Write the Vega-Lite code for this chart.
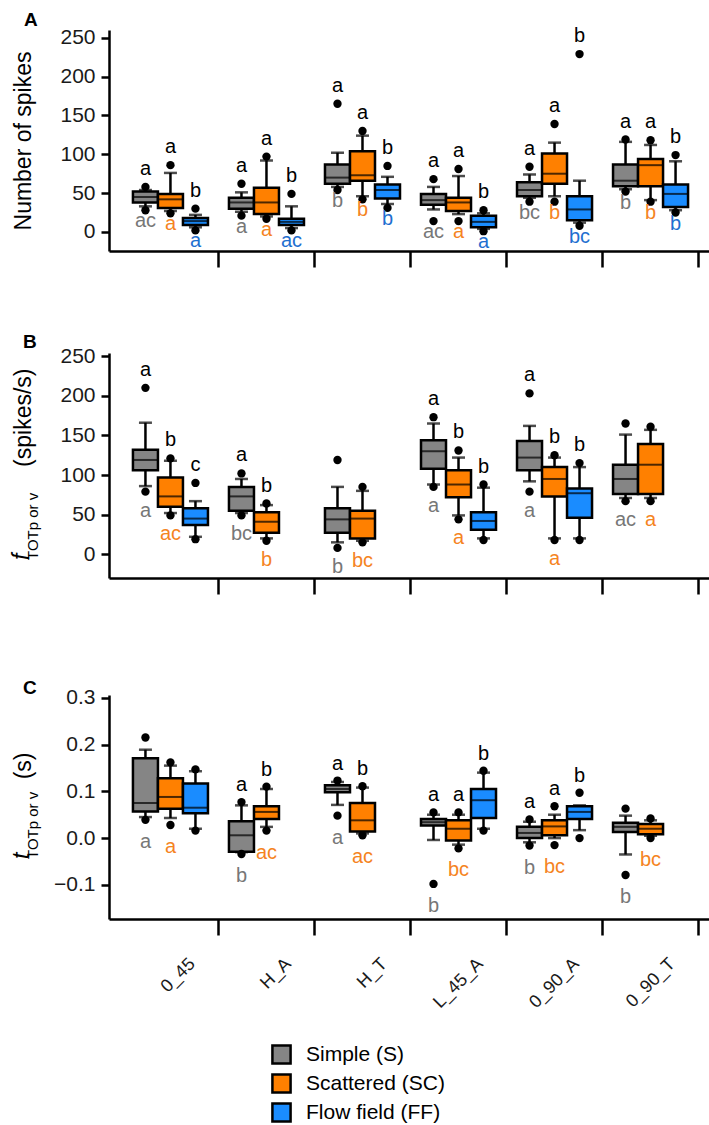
{
  "$schema": "https://vega.github.io/schema/vega-lite/v6.json",
  "padding": {"left": 10, "top": 11, "right": 0, "bottom": 0},
  "datasets": {
    "boxes": [
      {"p":"A","g":"0_45","s":"Simple (S)","lo":33,"q1":38,"med":45,"q3":52,"hi":54,"out":[58,28],"up":"a","dn":"ac"},
      {"p":"A","g":"0_45","s":"Scattered (SC)","lo":27,"q1":31,"med":42,"q3":49,"hi":76,"out":[86,24],"up":"a","dn":"a"},
      {"p":"A","g":"0_45","s":"Flow field (FF)","lo":6,"q1":9,"med":14,"q3":18,"hi":22,"out":[30,2],"up":"b","dn":"a"},
      {"p":"A","g":"H_A","s":"Simple (S)","lo":26,"q1":30,"med":38,"q3":44,"hi":51,"out":[62,21],"up":"a","dn":"a"},
      {"p":"A","g":"H_A","s":"Scattered (SC)","lo":20,"q1":23,"med":38,"q3":57,"hi":92,"out":[97,17],"up":"a","dn":"a"},
      {"p":"A","g":"H_A","s":"Flow field (FF)","lo":5,"q1":9,"med":13,"q3":17,"hi":33,"out":[49,2],"up":"b","dn":"ac"},
      {"p":"A","g":"H_T","s":"Simple (S)","lo":58,"q1":62,"med":70,"q3":87,"hi":102,"out":[165,54],"up":"a","dn":"b"},
      {"p":"A","g":"H_T","s":"Scattered (SC)","lo":46,"q1":66,"med":73,"q3":104,"hi":124,"out":[130,42],"up":"a","dn":"b"},
      {"p":"A","g":"H_T","s":"Flow field (FF)","lo":36,"q1":43,"med":54,"q3":61,"hi":71,"out":[85,31],"up":"b","dn":"b"},
      {"p":"A","g":"L_45_A","s":"Simple (S)","lo":29,"q1":35,"med":41,"q3":49,"hi":58,"out":[68,14],"up":"a","dn":"ac"},
      {"p":"A","g":"L_45_A","s":"Scattered (SC)","lo":23,"q1":27,"med":38,"q3":44,"hi":72,"out":[81,14],"up":"a","dn":"a"},
      {"p":"A","g":"L_45_A","s":"Flow field (FF)","lo":4,"q1":6,"med":13,"q3":21,"hi":24,"out":[28,1],"up":"b","dn":"a"},
      {"p":"A","g":"0_90_A","s":"Simple (S)","lo":44,"q1":46,"med":54,"q3":64,"hi":74,"out":[84,39],"up":"a","dn":"bc"},
      {"p":"A","g":"0_90_A","s":"Scattered (SC)","lo":46,"q1":62,"med":75,"q3":101,"hi":115,"out":[139,39],"up":"a","dn":"b"},
      {"p":"A","g":"0_90_A","s":"Flow field (FF)","lo":12,"q1":15,"med":29,"q3":46,"hi":66,"out":[229,8],"up":"b","dn":"bc"},
      {"p":"A","g":"0_90_T","s":"Simple (S)","lo":55,"q1":59,"med":66,"q3":87,"hi":116,"out":[119,52],"up":"a","dn":"b"},
      {"p":"A","g":"0_90_T","s":"Scattered (SC)","lo":41,"q1":59,"med":86,"q3":94,"hi":112,"out":[118,39],"up":"a","dn":"b"},
      {"p":"A","g":"0_90_T","s":"Flow field (FF)","lo":28,"q1":32,"med":49,"q3":61,"hi":91,"out":[99,25],"up":"b","dn":"b"},

      {"p":"B","g":"0_45","s":"Simple (S)","lo":86,"q1":106,"med":119,"q3":132,"hi":166,"out":[210,79],"up":"a","dn":"a"},
      {"p":"B","g":"0_45","s":"Scattered (SC)","lo":52,"q1":60,"med":73,"q3":97,"hi":118,"out":[121,49],"up":"b","dn":"ac"},
      {"p":"B","g":"0_45","s":"Flow field (FF)","lo":22,"q1":37,"med":45,"q3":58,"hi":67,"out":[90,19],"up":"c","dn":""},
      {"p":"B","g":"H_A","s":"Simple (S)","lo":52,"q1":55,"med":73,"q3":85,"hi":95,"out":[102,49],"up":"a","dn":"bc"},
      {"p":"B","g":"H_A","s":"Scattered (SC)","lo":20,"q1":27,"med":41,"q3":53,"hi":62,"out":[64,17],"up":"b","dn":"b"},
      {"p":"B","g":"H_T","s":"Simple (S)","lo":15,"q1":27,"med":44,"q3":58,"hi":85,"out":[119,8],"up":"","dn":"b"},
      {"p":"B","g":"H_T","s":"Scattered (SC)","lo":17,"q1":20,"med":45,"q3":55,"hi":80,"out":[85,15],"up":"","dn":"bc"},
      {"p":"B","g":"L_45_A","s":"Simple (S)","lo":88,"q1":108,"med":130,"q3":144,"hi":165,"out":[173,85],"up":"a","dn":"a"},
      {"p":"B","g":"L_45_A","s":"Scattered (SC)","lo":49,"q1":72,"med":88,"q3":106,"hi":122,"out":[131,44],"up":"b","dn":"a"},
      {"p":"B","g":"L_45_A","s":"Flow field (FF)","lo":20,"q1":31,"med":42,"q3":53,"hi":84,"out":[88,18],"up":"b","dn":""},
      {"p":"B","g":"0_90_A","s":"Simple (S)","lo":92,"q1":106,"med":122,"q3":143,"hi":162,"out":[203,79],"up":"a","dn":"a"},
      {"p":"B","g":"0_90_A","s":"Scattered (SC)","lo":20,"q1":73,"med":95,"q3":110,"hi":122,"out":[125,18],"up":"b","dn":"a"},
      {"p":"B","g":"0_90_A","s":"Flow field (FF)","lo":20,"q1":46,"med":77,"q3":83,"hi":110,"out":[115,18],"up":"b","dn":""},
      {"p":"B","g":"0_90_T","s":"Simple (S)","lo":71,"q1":76,"med":95,"q3":113,"hi":151,"out":[165,67],"up":"","dn":"ac"},
      {"p":"B","g":"0_90_T","s":"Scattered (SC)","lo":71,"q1":76,"med":113,"q3":139,"hi":157,"out":[161,67],"up":"","dn":"a"},

      {"p":"C","g":"0_45","s":"Simple (S)","lo":0.045,"q1":0.057,"med":0.075,"q3":0.171,"hi":0.189,"out":[0.215,0.039],"up":"","dn":"a"},
      {"p":"C","g":"0_45","s":"Scattered (SC)","lo":0.043,"q1":0.063,"med":0.088,"q3":0.128,"hi":0.155,"out":[0.162,0.028],"up":"","dn":"a"},
      {"p":"C","g":"0_45","s":"Flow field (FF)","lo":0.02,"q1":0.053,"med":0.065,"q3":0.117,"hi":0.143,"out":[0.147,0.016],"up":"","dn":""},
      {"p":"C","g":"H_A","s":"Simple (S)","lo":-0.03,"q1":-0.029,"med":0.006,"q3":0.036,"hi":0.07,"out":[0.077,-0.034],"up":"a","dn":"b"},
      {"p":"C","g":"H_A","s":"Scattered (SC)","lo":0.024,"q1":0.041,"med":0.056,"q3":0.068,"hi":0.105,"out":[0.11,0.016],"up":"b","dn":"ac"},
      {"p":"C","g":"H_T","s":"Simple (S)","lo":0.071,"q1":0.098,"med":0.105,"q3":0.113,"hi":0.12,"out":[0.123,0.048],"up":"a","dn":"a"},
      {"p":"C","g":"H_T","s":"Scattered (SC)","lo":0.01,"q1":0.014,"med":0.038,"q3":0.075,"hi":0.108,"out":[0.111,0.006],"up":"b","dn":"ac"},
      {"p":"C","g":"L_45_A","s":"Simple (S)","lo":-0.004,"q1":0.027,"med":0.034,"q3":0.041,"hi":0.05,"out":[0.055,-0.098],"up":"a","dn":"b"},
      {"p":"C","g":"L_45_A","s":"Scattered (SC)","lo":-0.014,"q1":-0.005,"med":0.02,"q3":0.038,"hi":0.05,"out":[0.055,-0.022],"up":"a","dn":"bc"},
      {"p":"C","g":"L_45_A","s":"Flow field (FF)","lo":0.02,"q1":0.043,"med":0.081,"q3":0.105,"hi":0.14,"out":[0.144,0.016],"up":"b","dn":""},
      {"p":"C","g":"0_90_A","s":"Simple (S)","lo":-0.009,"q1":0.0,"med":0.011,"q3":0.024,"hi":0.035,"out":[0.04,-0.016],"up":"a","dn":"b"},
      {"p":"C","g":"0_90_A","s":"Scattered (SC)","lo":0.0,"q1":0.006,"med":0.025,"q3":0.038,"hi":0.05,"out":[0.068,-0.015],"up":"a","dn":"bc"},
      {"p":"C","g":"0_90_A","s":"Flow field (FF)","lo":0.017,"q1":0.041,"med":0.056,"q3":0.068,"hi":0.07,"out":[0.097,0.0],"up":"b","dn":""},
      {"p":"C","g":"0_90_T","s":"Simple (S)","lo":-0.035,"q1":0.013,"med":0.024,"q3":0.033,"hi":0.048,"out":[0.063,-0.079],"up":"","dn":"b"},
      {"p":"C","g":"0_90_T","s":"Scattered (SC)","lo":0.005,"q1":0.008,"med":0.02,"q3":0.03,"hi":0.038,"out":[0.042,0.0],"up":"","dn":"bc"}
    ]
  },
  "vconcat": [
    {
      "title": {"text": "A", "anchor": "start", "frame": "bounds", "fontSize": 19, "fontWeight": "bold", "offset": -4, "dx": 12},
      "width": 603, "height": 221,
      "data": {"name": "boxes"},
      "transform": [{"filter": "datum.p === 'A'"}],
      "encoding": {
        "x": {"field": "g", "type": "nominal", "sort": null, "scale": {"domain": ["0_45","H_A","H_T","L_45_A","0_90_A","0_90_T"], "paddingInner": 0, "paddingOuter": 0.14}, "axis": {"title": null, "labels": false, "bandPosition": 1, "tickSize": 16}},
        "xOffset": {"field": "s", "type": "nominal", "scale": {"domain": ["Simple (S)","Scattered (SC)","Flow field (FF)"], "paddingInner": 0, "paddingOuter": 0.42}}
      },
      "layer": [
        {"mark": {"type": "rule", "color": "black", "strokeWidth": 2.5}, "encoding": {"y": {"field": "lo", "type": "quantitative", "scale": {"domain": [-24.5, 260], "nice": false, "zero": false}, "axis": {"title": "Number of spikes", "titleX": -74, "values": [0,50,100,150,200,250], "format": "d", "tickSize": 8, "labelPadding": 6}}, "y2": {"field": "hi"}}},
        {"mark": {"type": "tick", "color": "black", "thickness": 2.5, "size": 13}, "encoding": {"y": {"field": "hi", "type": "quantitative", "scale": {"domain": [-24.5, 260], "nice": false, "zero": false}, "axis": {"title": "Number of spikes", "titleX": -74, "values": [0,50,100,150,200,250], "format": "d", "tickSize": 8, "labelPadding": 6}}}},
        {"mark": {"type": "tick", "color": "black", "thickness": 2.5, "size": 13}, "encoding": {"y": {"field": "lo", "type": "quantitative", "scale": {"domain": [-24.5, 260], "nice": false, "zero": false}, "axis": {"title": "Number of spikes", "titleX": -74, "values": [0,50,100,150,200,250], "format": "d", "tickSize": 8, "labelPadding": 6}}}},
        {"mark": {"type": "bar", "stroke": "black", "strokeWidth": 2.5}, "encoding": {"y": {"field": "q1", "type": "quantitative", "scale": {"domain": [-24.5, 260], "nice": false, "zero": false}, "axis": {"title": "Number of spikes", "titleX": -74, "values": [0,50,100,150,200,250], "format": "d", "tickSize": 8, "labelPadding": 6}}, "y2": {"field": "q3"}, "fill": {"field": "s", "type": "nominal", "scale": {"domain": ["Simple (S)","Scattered (SC)","Flow field (FF)"], "range": ["#858585", "#ff8000", "#1a8cff"]}, "legend": {"title": null}}}},
        {"mark": {"type": "tick", "color": "black", "thickness": 2, "size": 24}, "encoding": {"y": {"field": "med", "type": "quantitative", "scale": {"domain": [-24.5, 260], "nice": false, "zero": false}, "axis": {"title": "Number of spikes", "titleX": -74, "values": [0,50,100,150,200,250], "format": "d", "tickSize": 8, "labelPadding": 6}}}},
        {"transform": [{"flatten": ["out"]}], "mark": {"type": "circle", "color": "black", "opacity": 1, "size": 70}, "encoding": {"y": {"field": "out", "type": "quantitative", "scale": {"domain": [-24.5, 260], "nice": false, "zero": false}, "axis": {"title": "Number of spikes", "titleX": -74, "values": [0,50,100,150,200,250], "format": "d", "tickSize": 8, "labelPadding": 6}}}},
        {"transform": [{"calculate": "max(datum.hi, extent(datum.out)[1])", "as": "top"}], "mark": {"type": "text", "baseline": "bottom", "dy": -8, "fontSize": 20, "color": "black"}, "encoding": {"y": {"field": "top", "type": "quantitative", "scale": {"domain": [-24.5, 260], "nice": false, "zero": false}, "axis": {"title": "Number of spikes", "titleX": -74, "values": [0,50,100,150,200,250], "format": "d", "tickSize": 8, "labelPadding": 6}}, "text": {"field": "up"}}},
        {"transform": [{"calculate": "min(datum.lo, extent(datum.out)[0])", "as": "bot"}], "mark": {"type": "text", "baseline": "top", "dy": 1, "fontSize": 20}, "encoding": {"y": {"field": "bot", "type": "quantitative", "scale": {"domain": [-24.5, 260], "nice": false, "zero": false}, "axis": {"title": "Number of spikes", "titleX": -74, "values": [0,50,100,150,200,250], "format": "d", "tickSize": 8, "labelPadding": 6}}, "text": {"field": "dn"}, "color": {"field": "s", "type": "nominal", "scale": {"domain": ["Simple (S)","Scattered (SC)","Flow field (FF)"], "range": ["#777777", "#f5841f", "#1f6fd0"]}, "legend": null}}}
      ]
    },
    {
      "spacing": 82,
      "vconcat": [
        {
          "title": {"text": "B", "anchor": "start", "frame": "bounds", "fontSize": 19, "fontWeight": "bold", "offset": -7, "dx": 12},
          "vconcat": [
            {
              "title": {"text": "f", "subtitle": "\u00a0\u00a0\u00a0\u00a0\u00a0TOTp or v", "orient": "left", "anchor": "start", "frame": "group", "fontSize": 23, "fontStyle": "italic", "fontWeight": "normal", "subtitleFontSize": 15, "subtitleColor": "black", "subtitlePadding": -8, "offset": -29, "dx": 18},
              "width": 603, "height": 225,
              "data": {"name": "boxes"},
              "transform": [{"filter": "datum.p === 'B'"}],
              "encoding": {
                "x": {"field": "g", "type": "nominal", "sort": null, "scale": {"domain": ["0_45","H_A","H_T","L_45_A","0_90_A","0_90_T"], "paddingInner": 0, "paddingOuter": 0.14}, "axis": {"title": null, "labels": false, "bandPosition": 1, "tickSize": 16}},
                "xOffset": {"field": "s", "type": "nominal", "scale": {"domain": ["Simple (S)","Scattered (SC)","Flow field (FF)"], "paddingInner": 0, "paddingOuter": 0.42}}
              },
              "layer": [
                {"mark": {"type": "rule", "color": "black", "strokeWidth": 2.5}, "encoding": {"y": {"field": "lo", "type": "quantitative", "scale": {"domain": [-30, 254], "nice": false, "zero": false}, "axis": {"title": "(spikes/s)", "titleAnchor": "end", "titleX": -74, "titleY": 15, "values": [0,50,100,150,200,250], "format": "d", "tickSize": 8, "labelPadding": 6}}, "y2": {"field": "hi"}}},
                {"mark": {"type": "tick", "color": "black", "thickness": 2.5, "size": 13}, "encoding": {"y": {"field": "hi", "type": "quantitative", "scale": {"domain": [-30, 254], "nice": false, "zero": false}, "axis": {"title": "(spikes/s)", "titleAnchor": "end", "titleX": -74, "titleY": 15, "values": [0,50,100,150,200,250], "format": "d", "tickSize": 8, "labelPadding": 6}}}},
                {"mark": {"type": "tick", "color": "black", "thickness": 2.5, "size": 13}, "encoding": {"y": {"field": "lo", "type": "quantitative", "scale": {"domain": [-30, 254], "nice": false, "zero": false}, "axis": {"title": "(spikes/s)", "titleAnchor": "end", "titleX": -74, "titleY": 15, "values": [0,50,100,150,200,250], "format": "d", "tickSize": 8, "labelPadding": 6}}}},
                {"mark": {"type": "bar", "stroke": "black", "strokeWidth": 2.5}, "encoding": {"y": {"field": "q1", "type": "quantitative", "scale": {"domain": [-30, 254], "nice": false, "zero": false}, "axis": {"title": "(spikes/s)", "titleAnchor": "end", "titleX": -74, "titleY": 15, "values": [0,50,100,150,200,250], "format": "d", "tickSize": 8, "labelPadding": 6}}, "y2": {"field": "q3"}, "fill": {"field": "s", "type": "nominal", "scale": {"domain": ["Simple (S)","Scattered (SC)","Flow field (FF)"], "range": ["#858585", "#ff8000", "#1a8cff"]}, "legend": {"title": null}}}},
                {"mark": {"type": "tick", "color": "black", "thickness": 2, "size": 24}, "encoding": {"y": {"field": "med", "type": "quantitative", "scale": {"domain": [-30, 254], "nice": false, "zero": false}, "axis": {"title": "(spikes/s)", "titleAnchor": "end", "titleX": -74, "titleY": 15, "values": [0,50,100,150,200,250], "format": "d", "tickSize": 8, "labelPadding": 6}}}},
                {"transform": [{"flatten": ["out"]}], "mark": {"type": "circle", "color": "black", "opacity": 1, "size": 70}, "encoding": {"y": {"field": "out", "type": "quantitative", "scale": {"domain": [-30, 254], "nice": false, "zero": false}, "axis": {"title": "(spikes/s)", "titleAnchor": "end", "titleX": -74, "titleY": 15, "values": [0,50,100,150,200,250], "format": "d", "tickSize": 8, "labelPadding": 6}}}},
                {"transform": [{"calculate": "max(datum.hi, extent(datum.out)[1])", "as": "top"}], "mark": {"type": "text", "baseline": "bottom", "dy": -8, "fontSize": 20, "color": "black"}, "encoding": {"y": {"field": "top", "type": "quantitative", "scale": {"domain": [-30, 254], "nice": false, "zero": false}, "axis": {"title": "(spikes/s)", "titleAnchor": "end", "titleX": -74, "titleY": 15, "values": [0,50,100,150,200,250], "format": "d", "tickSize": 8, "labelPadding": 6}}, "text": {"field": "up"}}},
                {"transform": [{"calculate": "min(datum.lo, extent(datum.out)[0])", "as": "bot"}], "mark": {"type": "text", "baseline": "top", "dy": 9, "fontSize": 20}, "encoding": {"y": {"field": "bot", "type": "quantitative", "scale": {"domain": [-30, 254], "nice": false, "zero": false}, "axis": {"title": "(spikes/s)", "titleAnchor": "end", "titleX": -74, "titleY": 15, "values": [0,50,100,150,200,250], "format": "d", "tickSize": 8, "labelPadding": 6}}, "text": {"field": "dn"}, "color": {"field": "s", "type": "nominal", "scale": {"domain": ["Simple (S)","Scattered (SC)","Flow field (FF)"], "range": ["#777777", "#f5841f", "#1f6fd0"]}, "legend": null}}}
              ]
            }
          ]
        },
        {
          "title": {"text": "C", "anchor": "start", "frame": "bounds", "fontSize": 19, "fontWeight": "bold", "offset": -11, "dx": 12},
          "vconcat": [
            {
              "title": {"text": "t", "subtitle": "\u00a0\u00a0\u00a0\u00a0\u00a0TOTp or v", "orient": "left", "anchor": "start", "frame": "group", "fontSize": 23, "fontStyle": "italic", "fontWeight": "normal", "subtitleFontSize": 15, "subtitleColor": "black", "subtitlePadding": -8, "offset": -29, "dx": 60},
              "width": 603, "height": 224,
              "data": {"name": "boxes"},
              "transform": [{"filter": "datum.p === 'C'"}],
              "encoding": {
                "x": {"field": "g", "type": "nominal", "sort": null, "scale": {"domain": ["0_45","H_A","H_T","L_45_A","0_90_A","0_90_T"], "paddingInner": 0, "paddingOuter": 0.14}, "axis": {"title": null, "labels": true, "labelAngle": -45, "labelAlign": "right", "labelBaseline": "middle", "labelFontSize": 18, "labelPadding": 26, "labelOffset": 22, "bandPosition": 1, "tickSize": 16}},
                "xOffset": {"field": "s", "type": "nominal", "scale": {"domain": ["Simple (S)","Scattered (SC)","Flow field (FF)"], "paddingInner": 0, "paddingOuter": 0.42}}
              },
              "layer": [
                {"mark": {"type": "rule", "color": "black", "strokeWidth": 2.5}, "encoding": {"y": {"field": "lo", "type": "quantitative", "scale": {"domain": [-0.173, 0.306], "nice": false, "zero": false}, "axis": {"title": "(s)", "titleAnchor": "end", "titleX": -74, "titleY": 57, "values": [-0.1,0,0.1,0.2,0.3], "format": ".1f", "tickSize": 8, "labelPadding": 6}}, "y2": {"field": "hi"}}},
                {"mark": {"type": "tick", "color": "black", "thickness": 2.5, "size": 13}, "encoding": {"y": {"field": "hi", "type": "quantitative", "scale": {"domain": [-0.173, 0.306], "nice": false, "zero": false}, "axis": {"title": "(s)", "titleAnchor": "end", "titleX": -74, "titleY": 57, "values": [-0.1,0,0.1,0.2,0.3], "format": ".1f", "tickSize": 8, "labelPadding": 6}}}},
                {"mark": {"type": "tick", "color": "black", "thickness": 2.5, "size": 13}, "encoding": {"y": {"field": "lo", "type": "quantitative", "scale": {"domain": [-0.173, 0.306], "nice": false, "zero": false}, "axis": {"title": "(s)", "titleAnchor": "end", "titleX": -74, "titleY": 57, "values": [-0.1,0,0.1,0.2,0.3], "format": ".1f", "tickSize": 8, "labelPadding": 6}}}},
                {"mark": {"type": "bar", "stroke": "black", "strokeWidth": 2.5}, "encoding": {"y": {"field": "q1", "type": "quantitative", "scale": {"domain": [-0.173, 0.306], "nice": false, "zero": false}, "axis": {"title": "(s)", "titleAnchor": "end", "titleX": -74, "titleY": 57, "values": [-0.1,0,0.1,0.2,0.3], "format": ".1f", "tickSize": 8, "labelPadding": 6}}, "y2": {"field": "q3"}, "fill": {"field": "s", "type": "nominal", "scale": {"domain": ["Simple (S)","Scattered (SC)","Flow field (FF)"], "range": ["#858585", "#ff8000", "#1a8cff"]}, "legend": {"title": null}}}},
                {"mark": {"type": "tick", "color": "black", "thickness": 2, "size": 24}, "encoding": {"y": {"field": "med", "type": "quantitative", "scale": {"domain": [-0.173, 0.306], "nice": false, "zero": false}, "axis": {"title": "(s)", "titleAnchor": "end", "titleX": -74, "titleY": 57, "values": [-0.1,0,0.1,0.2,0.3], "format": ".1f", "tickSize": 8, "labelPadding": 6}}}},
                {"transform": [{"flatten": ["out"]}], "mark": {"type": "circle", "color": "black", "opacity": 1, "size": 70}, "encoding": {"y": {"field": "out", "type": "quantitative", "scale": {"domain": [-0.173, 0.306], "nice": false, "zero": false}, "axis": {"title": "(s)", "titleAnchor": "end", "titleX": -74, "titleY": 57, "values": [-0.1,0,0.1,0.2,0.3], "format": ".1f", "tickSize": 8, "labelPadding": 6}}}},
                {"transform": [{"calculate": "max(datum.hi, extent(datum.out)[1])", "as": "top"}], "mark": {"type": "text", "baseline": "bottom", "dy": -7, "fontSize": 20, "color": "black"}, "encoding": {"y": {"field": "top", "type": "quantitative", "scale": {"domain": [-0.173, 0.306], "nice": false, "zero": false}, "axis": {"title": "(s)", "titleAnchor": "end", "titleX": -74, "titleY": 57, "values": [-0.1,0,0.1,0.2,0.3], "format": ".1f", "tickSize": 8, "labelPadding": 6}}, "text": {"field": "up"}}},
                {"transform": [{"calculate": "min(datum.lo, extent(datum.out)[0])", "as": "bot"}], "mark": {"type": "text", "baseline": "top", "dy": 12, "fontSize": 20}, "encoding": {"y": {"field": "bot", "type": "quantitative", "scale": {"domain": [-0.173, 0.306], "nice": false, "zero": false}, "axis": {"title": "(s)", "titleAnchor": "end", "titleX": -74, "titleY": 57, "values": [-0.1,0,0.1,0.2,0.3], "format": ".1f", "tickSize": 8, "labelPadding": 6}}, "text": {"field": "dn"}, "color": {"field": "s", "type": "nominal", "scale": {"domain": ["Simple (S)","Scattered (SC)","Flow field (FF)"], "range": ["#777777", "#f5841f", "#1f6fd0"]}, "legend": null}}}
              ]
            }
          ]
        }
      ]
    }
  ],
  "spacing": 64,
  "config": {
    "view": {"stroke": null},
    "font": "Liberation Sans",
    "text": {"font": "Liberation Sans"},
    "title": {"font": "Liberation Sans", "color": "black", "subtitleFont": "Liberation Sans"},
    "axis": {"labelFont": "Liberation Sans", "labelFontSize": 21, "labelColor": "#1a1a1a", "domainColor": "black", "tickColor": "black", "domainWidth": 2.5, "tickWidth": 2.5, "grid": false, "titleFont": "Liberation Sans", "titleFontWeight": "normal", "titleFontSize": 23, "titleColor": "black"},
    "legend": {"orient": "none", "legendX": 162, "legendY": 1014, "symbolType": "square", "symbolSize": 330, "symbolStrokeColor": "black", "symbolStrokeWidth": 2.5, "labelFont": "Liberation Sans", "labelFontSize": 21, "labelColor": "black", "rowPadding": 0, "labelOffset": 14}
  }
}
